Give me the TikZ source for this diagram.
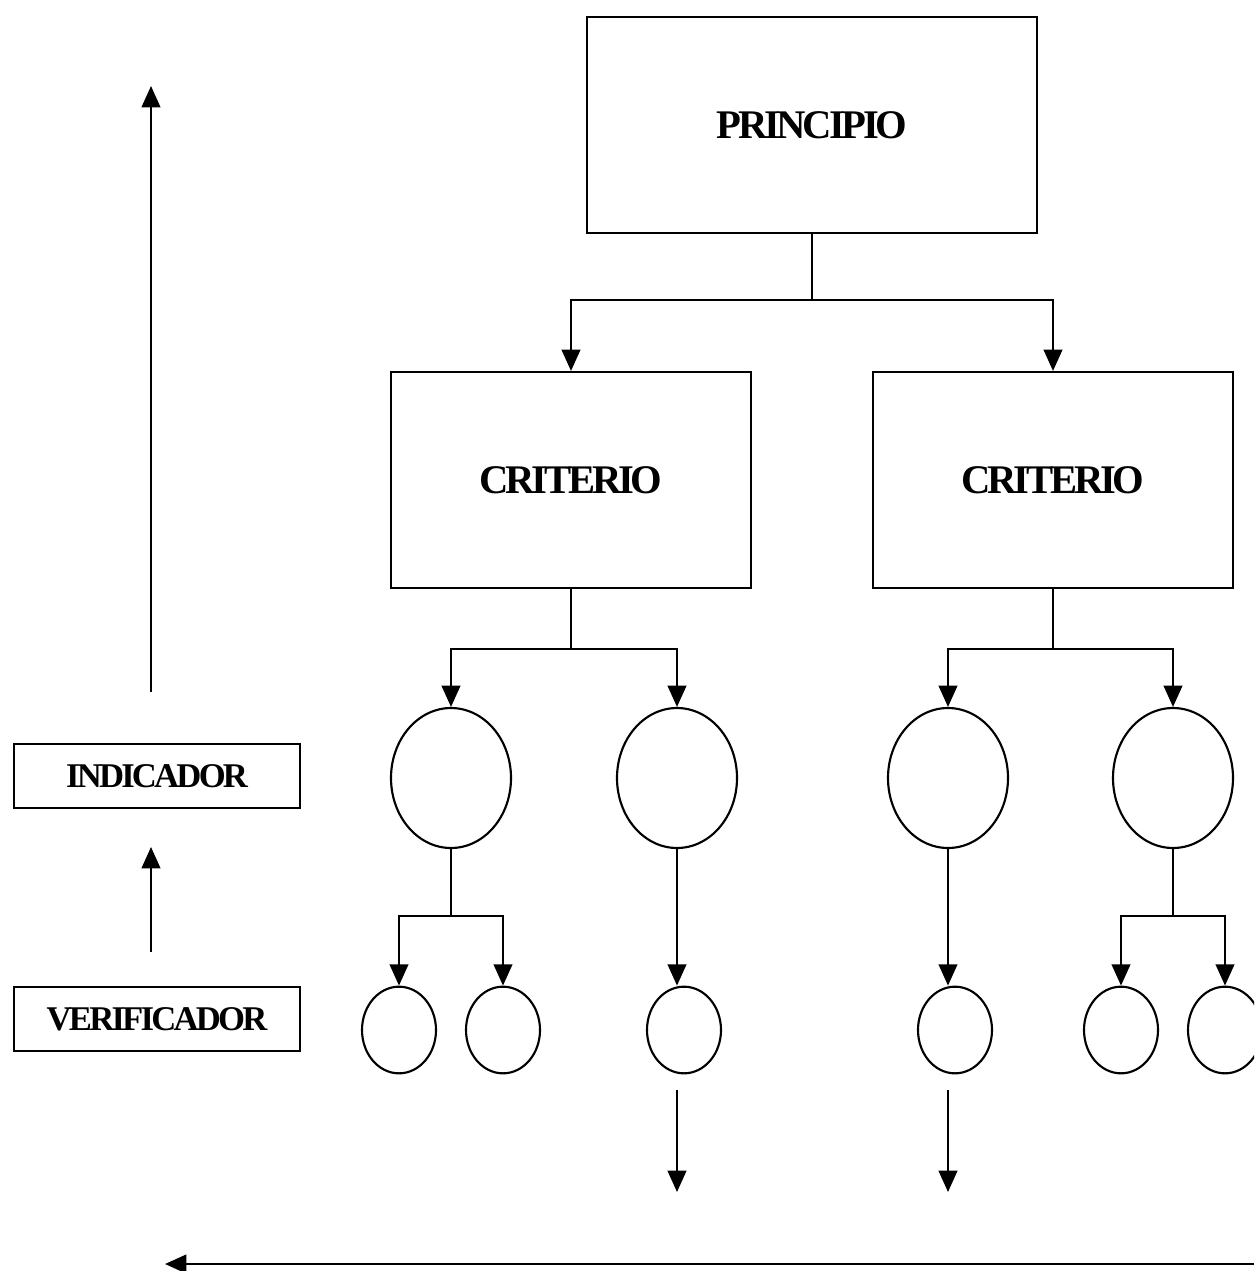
\documentclass[tikz,border=0pt]{standalone}
\usepackage{fontspec}
\setmainfont{Liberation Serif}
\newfontfamily\tagfont[LetterSpace=-8]{Liberation Serif}
\usepackage{tikz}
\usetikzlibrary{arrows.meta, shapes.geometric}

\begin{document}
\begin{tikzpicture}[
    x=0.75pt, y=-0.75pt,
    line width=1.6pt,
    box/.style={rectangle, draw, align=center, inner sep=0pt,
                font=\tagfont\bfseries\fontsize{30.5}{36}\selectfont},
    bigbox/.style={box, minimum width=338pt, minimum height=162pt},
    critbox/.style={box, minimum width=270pt, minimum height=162pt},
    sidebox/.style={box, minimum width=214pt, minimum height=48pt,
                font=\tagfont\bfseries\fontsize{26}{30}\selectfont},
    bigoval/.style={ellipse, draw, inner sep=0pt,
                minimum width=90pt, minimum height=105pt},
    smalloval/.style={ellipse, draw, inner sep=0pt,
                minimum width=55.5pt, minimum height=65pt},
    arrow/.style={-{Triangle[length=16pt, width=14pt]}}
]
\clip (0,0) rectangle (1254,1271);

% boxes
\node[bigbox]  (princ) at (812,125)  {PRINCIPIO};
\node[critbox] (crit1) at (571,480)  {CRITERIO};
\node[critbox] (crit2) at (1053,480) {CRITERIO};

\node[sidebox] (indbox) at (157,776)  {INDICADOR};
\node[sidebox] (verbox) at (157,1019) {VERIFICADOR};

% indicators
\node[bigoval] (ind1) at (451,778)  {};
\node[bigoval] (ind2) at (677,778)  {};
\node[bigoval] (ind3) at (948,778)  {};
\node[bigoval] (ind4) at (1173,778) {};

% verifiers
\node[smalloval] (ver1) at (399,1030)  {};
\node[smalloval] (ver2) at (503,1030)  {};
\node[smalloval] (ver3) at (684,1030)  {};
\node[smalloval] (ver4) at (955,1030)  {};
\node[smalloval] (ver5) at (1121,1030) {};
\node[smalloval] (ver6) at (1225,1030) {};

% free ends
\coordinate (upA) at (151,692);
\coordinate (upB) at (151,86);
\coordinate (upC) at (151,952);
\coordinate (upD) at (151,847);
\coordinate (dnA) at (677,1090);
\coordinate (dnB) at (677,1192);
\coordinate (dnC) at (948,1090);
\coordinate (dnD) at (948,1192);
\coordinate (baseR) at (1254,1264);
\coordinate (baseL) at (165,1264);

% tree
\draw (princ.south) -- ++(0,66) coordinate (pj);
\draw[arrow] (pj) -| (crit1.north);
\draw[arrow] (pj) -| (crit2.north);

\draw (crit1.south) -- ++(0,60) coordinate (c1j);
\draw[arrow] (c1j) -| (ind1.north);
\draw[arrow] (c1j) -| (ind2.north);
\draw (crit2.south) -- ++(0,60) coordinate (c2j);
\draw[arrow] (c2j) -| (ind3.north);
\draw[arrow] (c2j) -| (ind4.north);

\draw (ind1.south) -- ++(0,67) coordinate (i1j);
\draw[arrow] (i1j) -| (ver1.north);
\draw[arrow] (i1j) -| (ver2.north);
\draw[arrow] (ind2.south) -- (ind2.south |- ver3.north);
\draw[arrow] (ind3.south) -- (ind3.south |- ver4.north);
\draw (ind4.south) -- ++(0,67) coordinate (i4j);
\draw[arrow] (i4j) -| (ver5.north);
\draw[arrow] (i4j) -| (ver6.north);

% other arrows
\draw[arrow] (upA) -- (upB);
\draw[arrow] (upC) -- (upD);
\draw[arrow] (dnA) -- (dnB);
\draw[arrow] (dnC) -- (dnD);
\draw[arrow] (baseR) -- (baseL);

\end{tikzpicture}
\end{document}
